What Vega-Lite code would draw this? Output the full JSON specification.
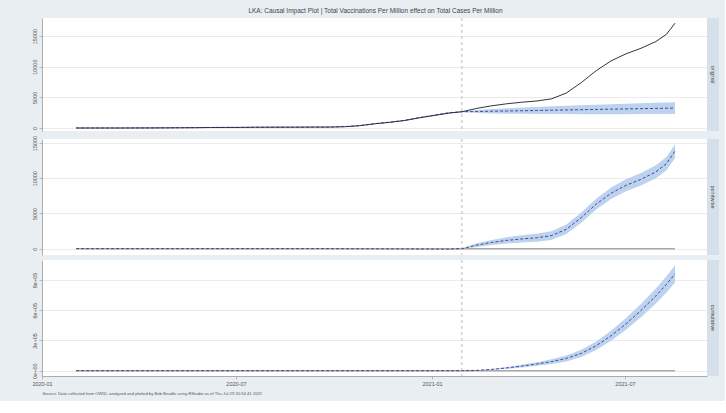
{
  "$schema": "https://vega.github.io/schema/vega-lite/v6.json",
  "background": "#e9eef2",
  "padding": {"left": 31, "top": 8, "right": 6, "bottom": 5},
  "title": {"text": "LKA: Causal Impact Plot | Total Vaccinations Per Million effect on Total Cases Per Million", "fontSize": 6.5, "fontWeight": "normal", "color": "#444444", "font": "Liberation Sans", "anchor": "middle", "offset": 3},
  "datasets": {
    "ci": [
      {"date": "2020-02-02", "actual": 0, "pred": 2, "lo": -13, "hi": 17, "pw": -2, "pwlo": -17, "pwhi": 13, "cum": 0, "cumlo": 0, "cumhi": 0},
      {"date": "2020-02-16", "actual": 0, "pred": 1, "lo": -14, "hi": 16, "pw": -1, "pwlo": -16, "pwhi": 14, "cum": 0, "cumlo": 0, "cumhi": 0},
      {"date": "2020-03-01", "actual": 0, "pred": 1, "lo": -14, "hi": 16, "pw": -1, "pwlo": -16, "pwhi": 14, "cum": 0, "cumlo": 0, "cumhi": 0},
      {"date": "2020-03-15", "actual": 1, "pred": 2, "lo": -13, "hi": 17, "pw": -1, "pwlo": -16, "pwhi": 14, "cum": 0, "cumlo": 0, "cumhi": 0},
      {"date": "2020-03-29", "actual": 6, "pred": 7, "lo": -8, "hi": 22, "pw": -1, "pwlo": -16, "pwhi": 14, "cum": 0, "cumlo": 0, "cumhi": 0},
      {"date": "2020-04-12", "actual": 10, "pred": 11, "lo": -4, "hi": 26, "pw": -1, "pwlo": -16, "pwhi": 14, "cum": 0, "cumlo": 0, "cumhi": 0},
      {"date": "2020-04-26", "actual": 24, "pred": 24, "lo": 9, "hi": 39, "pw": 0, "pwlo": -15, "pwhi": 15, "cum": 0, "cumlo": 0, "cumhi": 0},
      {"date": "2020-05-10", "actual": 40, "pred": 41, "lo": 26, "hi": 56, "pw": -1, "pwlo": -16, "pwhi": 14, "cum": 0, "cumlo": 0, "cumhi": 0},
      {"date": "2020-05-24", "actual": 53, "pred": 54, "lo": 39, "hi": 69, "pw": -1, "pwlo": -16, "pwhi": 14, "cum": 0, "cumlo": 0, "cumhi": 0},
      {"date": "2020-06-07", "actual": 85, "pred": 83, "lo": 68, "hi": 98, "pw": 2, "pwlo": -13, "pwhi": 17, "cum": 0, "cumlo": 0, "cumhi": 0},
      {"date": "2020-06-21", "actual": 91, "pred": 92, "lo": 77, "hi": 107, "pw": -1, "pwlo": -16, "pwhi": 14, "cum": 0, "cumlo": 0, "cumhi": 0},
      {"date": "2020-07-05", "actual": 96, "pred": 97, "lo": 82, "hi": 112, "pw": -1, "pwlo": -16, "pwhi": 14, "cum": 0, "cumlo": 0, "cumhi": 0},
      {"date": "2020-07-19", "actual": 123, "pred": 121, "lo": 106, "hi": 136, "pw": 2, "pwlo": -13, "pwhi": 17, "cum": 0, "cumlo": 0, "cumhi": 0},
      {"date": "2020-08-02", "actual": 132, "pred": 133, "lo": 118, "hi": 148, "pw": -1, "pwlo": -16, "pwhi": 14, "cum": 0, "cumlo": 0, "cumhi": 0},
      {"date": "2020-08-16", "actual": 135, "pred": 136, "lo": 121, "hi": 151, "pw": -1, "pwlo": -16, "pwhi": 14, "cum": 0, "cumlo": 0, "cumhi": 0},
      {"date": "2020-08-30", "actual": 139, "pred": 140, "lo": 125, "hi": 155, "pw": -1, "pwlo": -16, "pwhi": 14, "cum": 0, "cumlo": 0, "cumhi": 0},
      {"date": "2020-09-13", "actual": 150, "pred": 149, "lo": 134, "hi": 164, "pw": 1, "pwlo": -14, "pwhi": 16, "cum": 0, "cumlo": 0, "cumhi": 0},
      {"date": "2020-09-27", "actual": 154, "pred": 156, "lo": 141, "hi": 171, "pw": -2, "pwlo": -17, "pwhi": 13, "cum": 0, "cumlo": 0, "cumhi": 0},
      {"date": "2020-10-11", "actual": 210, "pred": 225, "lo": 205, "hi": 245, "pw": -15, "pwlo": -35, "pwhi": 5, "cum": 0, "cumlo": 0, "cumhi": 0},
      {"date": "2020-10-25", "actual": 374, "pred": 390, "lo": 365, "hi": 415, "pw": -16, "pwlo": -41, "pwhi": 9, "cum": 0, "cumlo": 0, "cumhi": 0},
      {"date": "2020-11-08", "actual": 680, "pred": 700, "lo": 670, "hi": 730, "pw": -20, "pwlo": -50, "pwhi": 10, "cum": 0, "cumlo": 0, "cumhi": 0},
      {"date": "2020-11-22", "actual": 920, "pred": 950, "lo": 915, "hi": 985, "pw": -30, "pwlo": -65, "pwhi": 5, "cum": 0, "cumlo": 0, "cumhi": 0},
      {"date": "2020-12-06", "actual": 1210, "pred": 1250, "lo": 1210, "hi": 1290, "pw": -40, "pwlo": -80, "pwhi": 0, "cum": 0, "cumlo": 0, "cumhi": 0},
      {"date": "2020-12-20", "actual": 1650, "pred": 1700, "lo": 1655, "hi": 1745, "pw": -50, "pwlo": -95, "pwhi": -5, "cum": 0, "cumlo": 0, "cumhi": 0},
      {"date": "2021-01-03", "actual": 2040, "pred": 2100, "lo": 2050, "hi": 2150, "pw": -60, "pwlo": -110, "pwhi": -10, "cum": 0, "cumlo": 0, "cumhi": 0},
      {"date": "2021-01-17", "actual": 2430, "pred": 2500, "lo": 2450, "hi": 2550, "pw": -70, "pwlo": -120, "pwhi": -20, "cum": 0, "cumlo": 0, "cumhi": 0},
      {"date": "2021-01-29", "actual": 2650, "pred": 2650, "lo": 2620, "hi": 2680, "pw": 0, "pwlo": -30, "pwhi": 30, "cum": 0, "cumlo": 0, "cumhi": 0},
      {"date": "2021-02-12", "actual": 3200, "pred": 2692, "lo": 2435, "hi": 2949, "pw": 508, "pwlo": 251, "pwhi": 765, "cum": 3556, "cumlo": 1976, "cumhi": 5136},
      {"date": "2021-02-26", "actual": 3620, "pred": 2734, "lo": 2371, "hi": 3097, "pw": 886, "pwlo": 523, "pwhi": 1249, "cum": 13314, "cumlo": 8844, "cumhi": 17784},
      {"date": "2021-03-12", "actual": 3950, "pred": 2776, "lo": 2331, "hi": 3221, "pw": 1174, "pwlo": 729, "pwhi": 1619, "cum": 27734, "cumlo": 19519, "cumhi": 35949},
      {"date": "2021-03-26", "actual": 4200, "pred": 2818, "lo": 2305, "hi": 3331, "pw": 1382, "pwlo": 869, "pwhi": 1895, "cum": 45626, "cumlo": 32976, "cumhi": 58276},
      {"date": "2021-04-09", "actual": 4400, "pred": 2860, "lo": 2286, "hi": 3434, "pw": 1540, "pwlo": 966, "pwhi": 2114, "cum": 66080, "cumlo": 48400, "cumhi": 83760},
      {"date": "2021-04-23", "actual": 4750, "pred": 2902, "lo": 2273, "hi": 3531, "pw": 1848, "pwlo": 1219, "pwhi": 2477, "cum": 89796, "cumlo": 66556, "cumhi": 113036},
      {"date": "2021-05-07", "actual": 5700, "pred": 2944, "lo": 2265, "hi": 3623, "pw": 2756, "pwlo": 2077, "pwhi": 3435, "cum": 122024, "cumlo": 92744, "cumhi": 151304},
      {"date": "2021-05-21", "actual": 7400, "pred": 2986, "lo": 2260, "hi": 3712, "pw": 4414, "pwlo": 3688, "pwhi": 5140, "cum": 172214, "cumlo": 136439, "cumhi": 207989},
      {"date": "2021-06-04", "actual": 9350, "pred": 3028, "lo": 2258, "hi": 3798, "pw": 6322, "pwlo": 5552, "pwhi": 7092, "cum": 247366, "cumlo": 204676, "cumhi": 290056},
      {"date": "2021-06-18", "actual": 10950, "pred": 3070, "lo": 2258, "hi": 3882, "pw": 7880, "pwlo": 7068, "pwhi": 8692, "cum": 346780, "cumlo": 296780, "cumhi": 396780},
      {"date": "2021-07-02", "actual": 12100, "pred": 3112, "lo": 2261, "hi": 3963, "pw": 8988, "pwlo": 8137, "pwhi": 9839, "cum": 464856, "cumlo": 407176, "cumhi": 522536},
      {"date": "2021-07-16", "actual": 13000, "pred": 3154, "lo": 2265, "hi": 4043, "pw": 9846, "pwlo": 8957, "pwhi": 10735, "cum": 596694, "cumlo": 530974, "cumhi": 662414},
      {"date": "2021-07-30", "actual": 14100, "pred": 3196, "lo": 2271, "hi": 4121, "pw": 10904, "pwlo": 9979, "pwhi": 11829, "cum": 741944, "cumlo": 667839, "cumhi": 816049},
      {"date": "2021-08-09", "actual": 15300, "pred": 3226, "lo": 2276, "hi": 4176, "pw": 12074, "pwlo": 11124, "pwhi": 13024, "cum": 856834, "cumlo": 776534, "cumhi": 937134},
      {"date": "2021-08-17", "actual": 17100, "pred": 3250, "lo": 2280, "hi": 4220, "pw": 13850, "pwlo": 12880, "pwhi": 14820, "cum": 960530, "cumlo": 875164, "cumhi": 1045896}
    ],
    "iv": [{"date": "2021-01-29"}]
  },
  "spacing": 3,
  "vconcat": [
    {
      "spacing": 0,
      "hconcat": [
        {
          "width": 665, "height": 113,
          "data": {"name": "ci"},
          "encoding": {
            "x": {"field": "date", "type": "temporal", "axis": null, "scale": {"domain": [{"year": 2020, "month": 1, "date": 1}, {"year": 2021, "month": 9, "date": 16}], "nice": false}},
            "y": {"type": "quantitative", "title": null, "scale": {"domain": [-490, 17945], "nice": false, "zero": false},
                  "axis": {"values": [0, 5000, 10000, 15000], "format": "d", "labelOverlap": false, "labelBound": false, "labelAngle": 270, "labelAlign": "center", "labelBaseline": "bottom", "labelPadding": 2, "grid": true}}
          },
          "layer": [
            {"mark": {"type": "area", "color": "#bdd2ee", "opacity": 1},
             "encoding": {"y": {"field": "lo"}, "y2": {"field": "hi"}}},
            {"mark": {"type": "line", "color": "#000000", "strokeWidth": 0.8},
             "encoding": {"y": {"field": "actual"}}},
            {"mark": {"type": "line", "color": "#1f2a80", "strokeWidth": 0.8, "strokeDash": [3, 2]},
             "encoding": {"y": {"field": "pred"}}},
            {"data": {"name": "iv"}, "mark": {"type": "rule", "color": "#a9a9a9", "strokeWidth": 0.8, "strokeDash": [3, 3]},
             "encoding": {"x": {"field": "date", "type": "temporal"}, "y": null}}
          ]
        },
        {
          "width": 12, "height": 113,
          "view": {"fill": "#d5e0ea", "stroke": null},
          "data": {"values": [{"label": "original"}]},
          "mark": {"type": "text", "angle": 90, "fontSize": 5.5, "color": "#444444", "font": "Liberation Sans"},
          "encoding": {"text": {"field": "label"}}
        }
      ]
    },
    {
      "spacing": 0,
      "hconcat": [
        {
          "width": 665, "height": 116,
          "data": {"name": "ci"},
          "encoding": {
            "x": {"field": "date", "type": "temporal", "axis": null, "scale": {"domain": [{"year": 2020, "month": 1, "date": 1}, {"year": 2021, "month": 9, "date": 16}], "nice": false}},
            "y": {"type": "quantitative", "title": null, "scale": {"domain": [-898, 15568], "nice": false, "zero": false},
                  "axis": {"values": [0, 5000, 10000, 15000], "format": "d", "labelOverlap": false, "labelBound": false, "labelAngle": 270, "labelAlign": "center", "labelBaseline": "bottom", "labelPadding": 2, "grid": true}}
          },
          "layer": [
            {"mark": {"type": "area", "color": "#bdd2ee", "opacity": 1},
             "encoding": {"y": {"field": "pwlo"}, "y2": {"field": "pwhi"}}},
            {"mark": {"type": "line", "color": "#a9a9a9", "strokeWidth": 1.5},
             "encoding": {"y": {"datum": 0, "type": "quantitative"}}},
            {"mark": {"type": "line", "color": "#1f2a80", "strokeWidth": 0.8, "strokeDash": [3, 2]},
             "encoding": {"y": {"field": "pw"}}},
            {"data": {"name": "iv"}, "mark": {"type": "rule", "color": "#a9a9a9", "strokeWidth": 0.8, "strokeDash": [3, 3]},
             "encoding": {"x": {"field": "date", "type": "temporal"}, "y": null}}
          ]
        },
        {
          "width": 12, "height": 116,
          "view": {"fill": "#d5e0ea", "stroke": null},
          "data": {"values": [{"label": "pointwise"}]},
          "mark": {"type": "text", "angle": 90, "fontSize": 5.5, "color": "#444444", "font": "Liberation Sans"},
          "encoding": {"text": {"field": "label"}}
        }
      ]
    },
    {
      "spacing": 0,
      "hconcat": [
        {
          "width": 665, "height": 116,
          "data": {"name": "ci"},
          "encoding": {
            "x": {"field": "date", "type": "temporal",
                  "scale": {"domain": [{"year": 2020, "month": 1, "date": 1}, {"year": 2021, "month": 9, "date": 16}], "nice": false},
                  "axis": {"values": [{"year": 2020, "month": 1, "date": 1}, {"year": 2020, "month": 7, "date": 1}, {"year": 2021, "month": 1, "date": 1}, {"year": 2021, "month": 7, "date": 1}],
                           "format": "%Y-%m", "labelFlush": false, "labelOverlap": false, "grid": false,
                           "title": "Source: Data collected from OWID, analyzed and plotted by Bob Beadle using RStudio as of Thu Jul 29 20:54:41 2021",
                           "titleAnchor": "start", "titleAlign": "left", "titleFontSize": 4.2, "titleFontWeight": "normal", "titleColor": "#555555", "titlePadding": 5}},
            "y": {"type": "quantitative", "title": null, "scale": {"domain": [-52295, 1098191], "nice": false, "zero": false},
                  "axis": {"values": [0, 300000, 600000, 900000], "labelOverlap": false, "labelBound": false, "labelAngle": 270, "labelAlign": "center", "labelBaseline": "bottom", "labelPadding": 2, "grid": true,
                           "labelExpr": "datum.value == 0 ? '0e+00' : format(datum.value / 100000, 'd') + 'e+05'"}}
          },
          "layer": [
            {"mark": {"type": "area", "color": "#bdd2ee", "opacity": 1},
             "encoding": {"y": {"field": "cumlo"}, "y2": {"field": "cumhi"}}},
            {"mark": {"type": "line", "color": "#a9a9a9", "strokeWidth": 1.5},
             "encoding": {"y": {"datum": 0, "type": "quantitative"}}},
            {"mark": {"type": "line", "color": "#1f2a80", "strokeWidth": 0.8, "strokeDash": [3, 2]},
             "encoding": {"y": {"field": "cum"}}},
            {"data": {"name": "iv"}, "mark": {"type": "rule", "color": "#a9a9a9", "strokeWidth": 0.8, "strokeDash": [3, 3]},
             "encoding": {"x": {"field": "date", "type": "temporal"}, "y": null}}
          ]
        },
        {
          "width": 12, "height": 116,
          "view": {"fill": "#d5e0ea", "stroke": null},
          "data": {"values": [{"label": "cumulative"}]},
          "mark": {"type": "text", "angle": 90, "fontSize": 5.5, "color": "#444444", "font": "Liberation Sans"},
          "encoding": {"text": {"field": "label"}}
        }
      ]
    }
  ],
  "config": {
    "font": "Liberation Sans",
    "view": {"fill": "#ffffff", "stroke": null},
    "axis": {
      "labelFont": "Liberation Sans", "labelFontSize": 5.5, "labelColor": "#555555",
      "tickColor": "#999999", "tickSize": 3, "tickWidth": 0.6,
      "domainColor": "#999999", "domainWidth": 0.8,
      "gridColor": "#e3e3e3", "gridWidth": 0.7,
      "titleFont": "Liberation Sans"
    },
    "axisX": {"grid": false, "labelPadding": 2}
  }
}
